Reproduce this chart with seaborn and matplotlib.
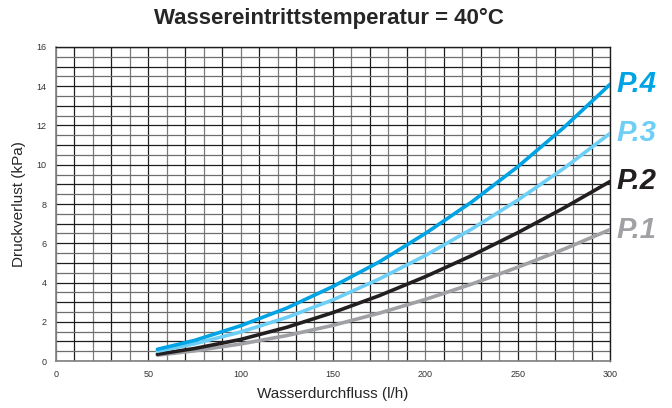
import numpy as np
import pandas as pd
import matplotlib
matplotlib.use('Agg')
import matplotlib.pyplot as plt
import seaborn as sns

flow = [55, 75, 100, 125, 150, 175, 200, 225, 250, 275, 300]
p1 = [0.30, 0.52, 0.87, 1.30, 1.82, 2.44, 3.14, 3.92, 4.78, 5.70, 6.70]
p2 = [0.35, 0.64, 1.10, 1.72, 2.47, 3.33, 4.30, 5.37, 6.54, 7.80, 9.15]
p3 = [0.50, 0.88, 1.48, 2.22, 3.12, 4.18, 5.38, 6.72, 8.20, 9.82, 11.60]
p4 = [0.60, 1.05, 1.80, 2.70, 3.80, 5.05, 6.50, 8.10, 9.90, 11.90, 14.10]
series = ['P.1', 'P.2', 'P.3', 'P.4']
colors = {'P.1': '#a0a1a5', 'P.2': '#231f20', 'P.3': '#6dcff6', 'P.4': '#00a3e3'}

df = pd.concat([
    pd.DataFrame({'flow': flow, 'dp': vals, 'serie': name})
    for name, vals in zip(series, [p1, p2, p3, p4])
])

sns.set_style('white')
plt.rcParams['font.family'] = ['Liberation Sans', 'DejaVu Sans']

fig = plt.figure(figsize=(6.72, 4.08), dpi=100)
ax = fig.add_axes([0.083, 0.115, 0.825, 0.77])

# grid: grey every 20 l/h, black in between; black on whole kPa, grey on halves
for xv in np.arange(0, 301, 10):
    ax.axvline(xv, color='#7a7a7a' if xv % 20 == 0 else '#1e1e1e', lw=0.9, zorder=1)
for yv in np.arange(0, 16.01, 0.5):
    ax.axhline(yv, color='#1e1e1e' if yv % 1 == 0 else '#6e6e6e', lw=0.9, zorder=1)

sns.lineplot(data=df, x='flow', y='dp', hue='serie', palette=colors,
             linewidth=2.6, legend=False, ax=ax, zorder=3)

ax.set_xlim(0, 300)
ax.set_ylim(0, 16)
ax.set_xticks(np.arange(0, 301, 50))
ax.set_yticks(np.arange(0, 17, 2))
ax.tick_params(axis='both', labelsize=6.5, colors='#444444', length=3, width=0.8, direction='out')
ax.tick_params(axis='both', labelcolor='#333333')
for side in ['left', 'bottom']:
    ax.spines[side].set_color('#808080')
    ax.spines[side].set_linewidth(1.2)
for side in ['right', 'top']:
    ax.spines[side].set_color('#1e1e1e')
    ax.spines[side].set_linewidth(1.0)

ax.set_xlabel('Wasserdurchfluss (l/h)', fontsize=11, labelpad=6)
ax.set_ylabel('Druckverlust (kPa)', fontsize=11, labelpad=8)
fig.suptitle('Wassereintrittstemperatur = 40°C', fontsize=16, fontweight='bold', x=0.49, y=0.98)

for name, vals in zip(series, [p1, p2, p3, p4]):
    ax.text(1.012, vals[-1], name, transform=ax.get_yaxis_transform(),
            color=colors[name], fontsize=21, fontweight='heavy', fontstyle='italic',
            va='center', ha='left', clip_on=False)

fig.savefig('out.png', dpi=100)
